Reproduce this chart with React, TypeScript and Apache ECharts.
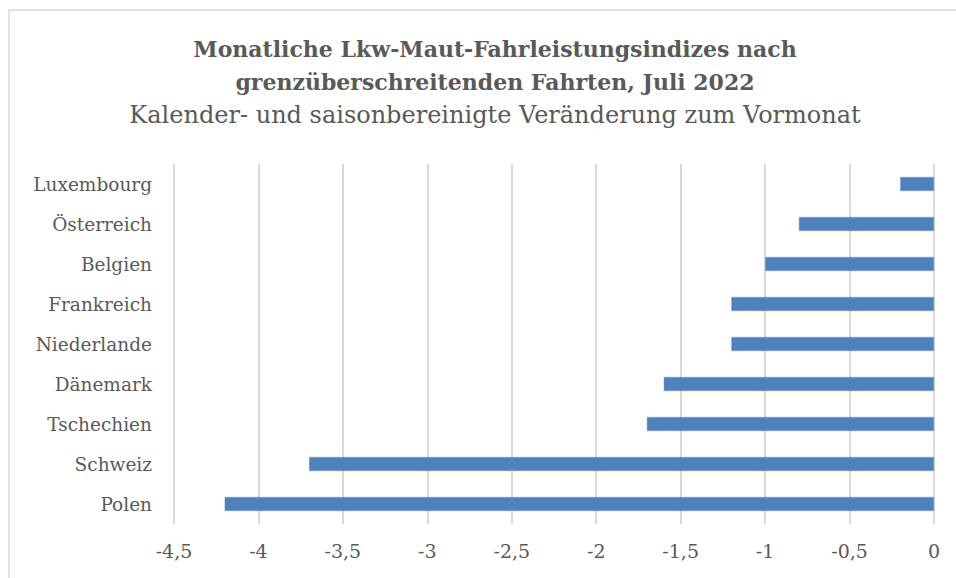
import React, { useEffect, useRef } from "react";
import * as echarts from "echarts";

const categories = ["Polen", "Schweiz", "Tschechien", "Dänemark", "Niederlande", "Frankreich", "Belgien", "Österreich", "Luxembourg"];
const values = [-4.2, -3.7, -1.7, -1.6, -1.2, -1.2, -1.0, -0.8, -0.2];
const titleLines = ["Monatliche Lkw-Maut-Fahrleistungsindizes nach", "grenzüberschreitenden Fahrten, Juli 2022"];
const subtitle = "Kalender- und saisonbereinigte Veränderung zum Vormonat";

const FONT = "'DejaVu Serif', serif";
const TXT = "#595959";

export default function App() {
  const ref = useRef<HTMLDivElement>(null);
  useEffect(() => {
    if (!ref.current) return;
    const chart = echarts.init(ref.current, undefined, { renderer: "svg" });
    chart.setOption({
      animation: false,
      backgroundColor: "#fff",
      graphic: [
        { type: "rect", shape: { x: 9, y: 10, width: 1000, height: 1000 }, style: { fill: "none", stroke: "#d9d9d9", lineWidth: 1.5 }, silent: true },
      ],
      title: [
        {
          text: titleLines.join("\n"),
          left: 490,
          textAlign: "center",
          top: 27,
          textStyle: { fontFamily: FONT, fontSize: 22, fontWeight: "bold", color: TXT, lineHeight: 33 },
        },
        {
          text: subtitle,
          left: 490,
          textAlign: "center",
          top: 98,
          textStyle: { fontFamily: FONT, fontSize: 24, fontWeight: "normal", color: TXT },
        },
      ],
      grid: { left: 174, right: 22, top: 164, height: 360, containLabel: false },
      xAxis: {
        type: "value",
        min: -4.5,
        max: 0,
        interval: 0.5,
        axisLine: { show: false },
        axisTick: { show: false },
        splitLine: { show: true, lineStyle: { color: "#d9d9d9", width: 2 } },
        axisLabel: {
          margin: 17,
          fontFamily: FONT,
          fontSize: 19,
          color: TXT,
          formatter: (v: number) => String(v).replace(".", ","),
        },
      },
      yAxis: {
        type: "category",
        data: categories,
        axisLine: { show: false },
        axisTick: { show: false },
        axisLabel: { margin: 22, fontFamily: FONT, fontSize: 18.5, color: TXT },
      },
      series: [
        {
          type: "bar",
          data: values,
          barWidth: 14,
          itemStyle: { color: "#4F81BD", borderColor: "#6f97c9", borderWidth: 0.5 },
        },
      ],
    });
    return () => chart.dispose();
  }, []);
  return <div ref={ref} style={{ width: 956, height: 578, position: "absolute", left: 0, top: 0 }} />;
}
